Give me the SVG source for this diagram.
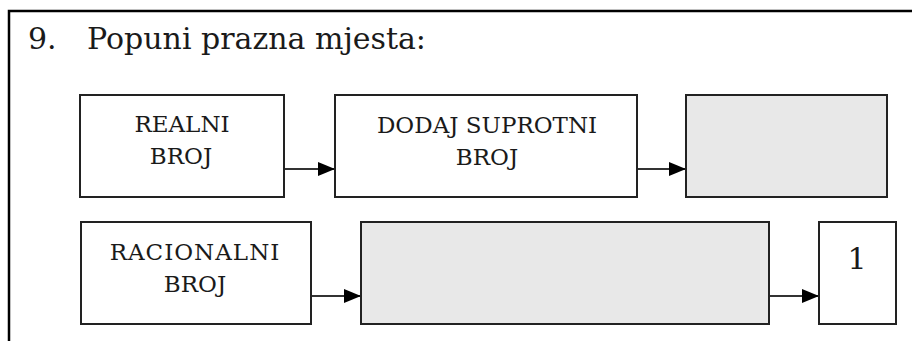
<svg xmlns="http://www.w3.org/2000/svg" width="912" height="341" viewBox="0 0 912 341">
<style>
text{font-family:"DejaVu Serif","Liberation Serif",serif;fill:#1a1a1a}
.lbl{font-size:23px;text-anchor:middle}
.box{fill:#ffffff;stroke:#222;stroke-width:2}
.blank{fill:#e8e8e8;stroke:#222;stroke-width:2}
.conn{stroke:#333;stroke-width:2;fill:none;marker-end:url(#ah)}
</style>
<defs>
<marker id="ah" markerUnits="userSpaceOnUse" markerWidth="17" markerHeight="14" refX="17" refY="7" orient="auto">
<path d="M0,0 L17,7 L0,14 z" fill="#000"/>
</marker>
</defs>
<rect width="912" height="341" fill="#fff"/>
<rect x="9" y="11" width="1000" height="1000" fill="none" stroke="#000" stroke-width="2.5"/>
<g id="title">
<text x="28" y="49" font-size="30">9.</text>
<text x="87" y="49" font-size="30">Popuni prazna mjesta:</text>
</g>
<g id="connectors">
<line class="conn" x1="284" y1="169" x2="335" y2="169"/>
<line class="conn" x1="637" y1="169" x2="686" y2="169"/>
<line class="conn" x1="311" y1="296" x2="361" y2="296"/>
<line class="conn" x1="769" y1="296" x2="819" y2="296"/>
</g>
<g id="realni">
<rect class="box" x="80" y="95" width="204" height="102"/>
<text class="lbl" x="182" y="132">REALNI</text>
<text class="lbl" x="181" y="164">BROJ</text>
</g>
<g id="dodaj">
<rect class="box" x="335" y="95" width="302" height="102"/>
<text class="lbl" x="487" y="133">DODAJ SUPROTNI</text>
<text class="lbl" x="487" y="165">BROJ</text>
</g>
<g id="blank1">
<rect class="blank" x="686" y="95" width="201" height="102"/>
</g>
<g id="racionalni">
<rect class="box" x="81" y="222" width="230" height="102"/>
<text class="lbl" x="195" y="260" letter-spacing="1">RACIONALNI</text>
<text class="lbl" x="195" y="292">BROJ</text>
</g>
<g id="blank2">
<rect class="blank" x="361" y="222" width="408" height="102"/>
</g>
<g id="one">
<rect class="box" x="819" y="222" width="77" height="102"/>
<text x="857" y="269" font-size="30" text-anchor="middle">1</text>
</g>
</svg>
